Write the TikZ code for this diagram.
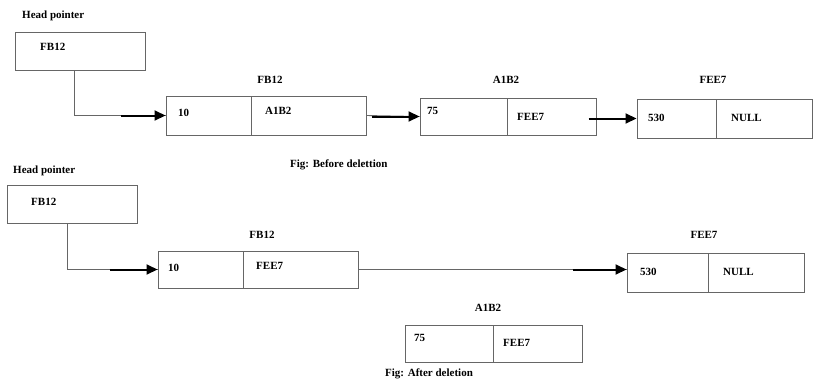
\documentclass[tikz,border=0pt]{standalone}
\usepackage{fontspec}
\setmainfont{Liberation Serif}
\usetikzlibrary{arrows.meta}
\begin{document}
\begin{tikzpicture}[x=1pt,y=-1pt,
  cell/.style={draw=black!60,line width=1pt,inner sep=0pt,minimum height=38pt},
  txt/.style={anchor=west,inner sep=0pt,font=\fontsize{11}{13}\selectfont\bfseries},
  ttl/.style={inner sep=0pt,font=\fontsize{11}{13}\selectfont\bfseries},
  wire/.style={draw=black!60,line width=0.9pt},
  ptr/.style={draw=black,line width=2pt,-{Triangle[length=11pt,width=10pt]}}]
\useasboundingbox (0,0) rectangle (814,388);

% ---------- before deletion ----------
\node[txt] (hp1) at (22,16) {Head pointer};
\node[cell,minimum width=130pt] (head1) at (80,51) {};
\node[txt] (head1t) at (40,47) {FB12};

\node[ttl] (l1) at (270,80) {FB12};
\node[cell,minimum width=85pt,minimum height=39pt] (n1a) at (208.5,115.5) {};
\node[cell,minimum width=115pt,minimum height=39pt] (n1b) at (308.5,115.5) {};
\node[txt] (n1at) at (178,113) {10};
\node[txt] (n1bt) at (265,111) {A1B2};

\node[ttl] (l2) at (506,80) {A1B2};
\node[cell,minimum width=87pt,minimum height=37pt] (n2a) at (463.5,116.5) {};
\node[cell,minimum width=89pt,minimum height=37pt] (n2b) at (551.5,116.5) {};
\node[txt] (n2at) at (427,111) {75};
\node[txt] (n2bt) at (517,117) {FEE7};

\node[ttl] (l3) at (713,80) {FEE7};
\node[cell,minimum width=79pt,minimum height=39pt] (n3a) at (676.5,118.5) {};
\node[cell,minimum width=96pt,minimum height=39pt] (n3b) at (764,118.5) {};
\node[txt] (n3at) at (648,118) {530};
\node[txt] (n3bt) at (731,118) {NULL};

\node[txt] (cap1) at (290,165) {Fig: Before delettion};

\draw[wire] ([xshift=-6pt]head1.south) |- (n1a.west);
\draw[ptr] ([xshift=-45pt]n1a.west) -- (n1a.west);
\draw[wire] (n1b.east) -- (n2a.west);
\draw[ptr] ([xshift=-48pt]n2a.west) -- (n2a.west);
\draw[ptr] ([xshift=-8pt]n2b.east |- n3a.west) -- (n3a.west);

% ---------- after deletion ----------
\node[txt] (hp2) at (13,171) {Head pointer};
\node[cell,minimum width=130pt] (head2) at (72,204) {};
\node[txt] (head2t) at (31,202) {FB12};

\node[ttl] (k1) at (262,235) {FB12};
\node[cell,minimum width=85pt,minimum height=37pt] (m1a) at (200.5,269.5) {};
\node[cell,minimum width=115pt,minimum height=37pt] (m1b) at (300.5,269.5) {};
\node[txt] (m1at) at (168,268) {10};
\node[txt] (m1bt) at (256,266) {FEE7};

\node[ttl] (k3) at (704,235) {FEE7};
\node[cell,minimum width=81pt,minimum height=39pt] (m3a) at (667.5,272.5) {};
\node[cell,minimum width=96pt,minimum height=39pt] (m3b) at (756,272.5) {};
\node[txt] (m3at) at (640,272) {530};
\node[txt] (m3bt) at (723,272) {NULL};

\node[ttl] (k2) at (488,308) {A1B2};
\node[cell,minimum width=88pt,minimum height=37pt] (m2a) at (449,343.5) {};
\node[cell,minimum width=89pt,minimum height=37pt] (m2b) at (537.5,343.5) {};
\node[txt] (m2at) at (414,338) {75};
\node[txt] (m2bt) at (503,343) {FEE7};

\node[txt] (cap2) at (385,374) {Fig: After deletion};

\draw[wire] ([xshift=-5pt]head2.south) |- (m1a.west);
\draw[ptr] ([xshift=-48pt]m1a.west) -- (m1a.west);
\draw[wire] (m1b.east) -- (m1b.east -| m3a.west);
\draw[ptr] ([xshift=-54pt]m1b.east -| m3a.west) -- (m1b.east -| m3a.west);
\end{tikzpicture}
\end{document}
